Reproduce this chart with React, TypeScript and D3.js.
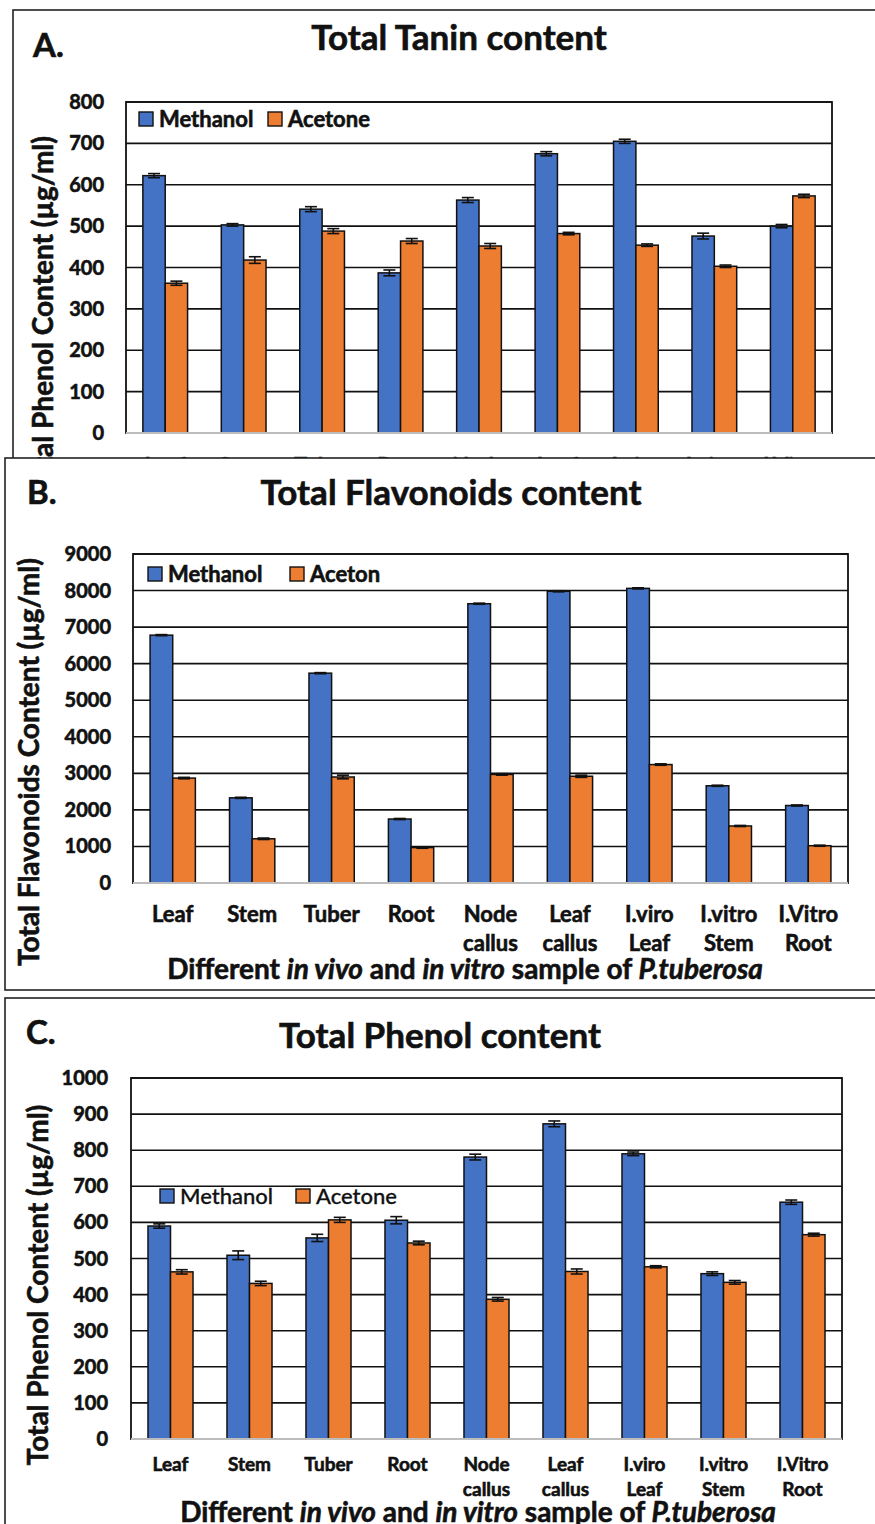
import * as d3 from 'd3';

const categories = ['Leaf', 'Stem', 'Tuber', 'Root', 'Node callus', 'Leaf callus', 'I.viro Leaf', 'I.vitro Stem', 'I.Vitro Root'];

// A. Total Tanin content
const taninMethanol = [622, 503, 541, 387, 563, 675, 705, 476, 500];
const taninMethanolErr = [5, 3, 6, 7, 6, 5, 5, 7, 4];
const taninAcetone = [362, 418, 488, 464, 452, 482, 454, 403, 573];
const taninAcetoneErr = [5, 8, 6, 6, 6, 3, 3, 3, 4];
const taninTicks = [0, 100, 200, 300, 400, 500, 600, 700, 800];

// B. Total Flavonoids content
const flavMethanol = [6780, 2330, 5740, 1750, 7640, 7980, 8060, 2660, 2120];
const flavMethanolErr = [15, 15, 15, 15, 15, 15, 15, 15, 15];
const flavAceton = [2870, 1210, 2900, 970, 2970, 2920, 3240, 1560, 1020];
const flavAcetonErr = [20, 20, 50, 20, 20, 30, 20, 15, 15];
const flavTicks = [0, 1000, 2000, 3000, 4000, 5000, 6000, 7000, 8000, 9000];

// C. Total Phenol content
const phenolMethanol = [590, 509, 557, 606, 781, 873, 790, 458, 656];
const phenolMethanolErr = [6, 12, 10, 10, 8, 8, 5, 5, 6];
const phenolAcetone = [463, 431, 607, 543, 387, 464, 477, 434, 566];
const phenolAcetoneErr = [6, 6, 7, 5, 5, 7, 3, 5, 4];
const phenolTicks = [0, 100, 200, 300, 400, 500, 600, 700, 800, 900, 1000];

const BLUE = '#4472C4';
const ORANGE = '#ED7D31';
const FONT = 'Lato, "Open Sans", sans-serif';
const INK = '#111';

type Series = { name: string; values: number[]; errors: number[]; color: string };

type PanelProps = {
  box: { x: number; y: number; w: number; h: number };
  letter: string;
  letterPos: [number, number];
  title: string;
  titlePos: [number, number];
  plot: { left: number; top: number; right: number; bottom: number };
  ticks: number[];
  tickX: number;
  series: Series[];
  legendX: number[];
  legendY: number;
  legendWeight: number;
  yLabel: string;
  yLabelPos: [number, number];
  yLabelAnchor: 'middle' | 'end';
  xLine1: number;
  xLine2: number | null;
  xTickSize: number;
  xTitlePos: [number, number] | null;
};

// heavier look, like the scanned Calibri bold
const heavy = { stroke: INK, strokeWidth: 0.6 };

function Panel(p: PanelProps) {
  const { plot } = p;
  const y = d3
    .scaleLinear()
    .domain([0, d3.max(p.ticks)!])
    .range([plot.bottom, plot.top]);
  const x = d3
    .scaleBand()
    .domain(categories)
    .range([plot.left, plot.right])
    .paddingInner(0.43)
    .paddingOuter(0.215);
  const xs = d3
    .scaleBand()
    .domain(p.series.map((s) => s.name))
    .range([0, x.bandwidth()]);

  return (
    <g>
      <rect x={p.box.x} y={p.box.y} width={p.box.w} height={p.box.h} fill="#fff" stroke="#222" strokeWidth={1.6} />
      <text x={p.letterPos[0]} y={p.letterPos[1]} fontSize={33} fontWeight={700} {...heavy}>
        {p.letter}
      </text>
      <text x={p.titlePos[0]} y={p.titlePos[1]} fontSize={35} fontWeight={700} textAnchor="middle" {...heavy}>
        {p.title}
      </text>

      {/* gridlines */}
      {p.ticks.map((t) => (
        <line key={t} x1={plot.left} x2={plot.right} y1={y(t)} y2={y(t)} stroke={INK} strokeWidth={1.6} />
      ))}
      {/* plot border */}
      <rect
        x={plot.left}
        y={plot.top}
        width={plot.right - plot.left}
        height={plot.bottom - plot.top}
        fill="none"
        stroke={INK}
        strokeWidth={1.8}
      />
      {/* tick labels */}
      {p.ticks.map((t) => (
        <text key={t} x={p.tickX} y={y(t)} dy="0.35em" fontSize={20} fontWeight={700} textAnchor="end" {...heavy}>
          {t}
        </text>
      ))}

      {/* bars */}
      {p.series.map((s) =>
        s.values.map((v, i) => {
          const bx = x(categories[i])! + xs(s.name)!;
          return (
            <rect
              key={s.name + i}
              x={bx}
              y={y(v)}
              width={xs.bandwidth()}
              height={plot.bottom - y(v)}
              fill={s.color}
              stroke={INK}
              strokeWidth={1.5}
            />
          );
        }),
      )}
      {/* error bars */}
      {p.series.map((s) =>
        s.values.map((v, i) => {
          const cx = x(categories[i])! + xs(s.name)! + xs.bandwidth() / 2;
          const hi = y(v + s.errors[i]);
          const lo = y(v - s.errors[i]);
          return (
            <g key={'e' + s.name + i} stroke={INK} strokeWidth={1.6}>
              <line x1={cx} x2={cx} y1={hi} y2={lo} />
              <line x1={cx - 6} x2={cx + 6} y1={hi} y2={hi} />
              <line x1={cx - 6} x2={cx + 6} y1={lo} y2={lo} />
            </g>
          );
        }),
      )}
      {/* x axis line */}
      <line x1={plot.left} x2={plot.right} y1={plot.bottom} y2={plot.bottom} stroke="#bdbdbd" strokeWidth={2} />

      {/* legend */}
      {p.series.map((s, i) => (
        <g key={'l' + s.name}>
          <rect x={p.legendX[i]} y={p.legendY} width={14} height={14} fill={s.color} stroke={INK} strokeWidth={1.4} />
          <text
            x={p.legendX[i] + 20}
            y={p.legendY + 15}
            fontSize={22}
            fontWeight={p.legendWeight}
            stroke={INK}
            strokeWidth={p.legendWeight > 500 ? 0.6 : 0.3}
          >
            {s.name}
          </text>
        </g>
      ))}

      {/* category labels */}
      {categories.map((c) => {
        const parts = c.split(' ');
        const cx = x(c)! + x.bandwidth() / 2;
        return (
          <text key={c} x={cx} fontSize={p.xTickSize} fontWeight={700} textAnchor="middle" {...heavy}>
            <tspan x={cx} y={p.xLine1}>
              {parts[0]}
            </tspan>
            {parts[1] && p.xLine2 !== null && (
              <tspan x={cx} y={p.xLine2}>
                {parts[1]}
              </tspan>
            )}
          </text>
        );
      })}

      {/* y axis title */}
      <text
        transform={`translate(${p.yLabelPos[0]},${p.yLabelPos[1]}) rotate(-90)`}
        fontSize={28}
        fontWeight={700}
        textAnchor={p.yLabelAnchor}
        dy="0.35em"
        {...heavy}
      >
        {p.yLabel}
      </text>

      {p.xTitlePos && (
        <text x={p.xTitlePos[0]} y={p.xTitlePos[1]} fontSize={28} fontWeight={700} textAnchor="middle" {...heavy}>
          Different <tspan fontStyle="italic">in vivo</tspan> and <tspan fontStyle="italic">in vitro</tspan> sample of{' '}
          <tspan fontStyle="italic">P.tuberosa</tspan>
        </text>
      )}
    </g>
  );
}

export default function App() {
  return (
    <svg
      width={875}
      height={1524}
      style={{ position: 'absolute', left: 0, top: 0, background: '#fff' }}
      fontFamily={FONT}
      fill={INK}
    >
      <Panel
        box={{ x: 13, y: 10, w: 880, h: 480 }}
        letter="A."
        letterPos={[33, 57]}
        title="Total Tanin content"
        titlePos={[459, 50]}
        plot={{ left: 126, top: 102, right: 832, bottom: 433 }}
        ticks={taninTicks}
        tickX={104}
        series={[
          { name: 'Methanol', values: taninMethanol, errors: taninMethanolErr, color: BLUE },
          { name: 'Acetone', values: taninAcetone, errors: taninAcetoneErr, color: ORANGE },
        ]}
        legendX={[139, 268]}
        legendY={112}
        legendWeight={700}
        yLabel="Total Phenol Content (µg/ml)"
        yLabelPos={[43, 136]}
        yLabelAnchor="end"
        xLine1={474}
        xLine2={null}
        xTickSize={22}
        xTitlePos={null}
      />
      <Panel
        box={{ x: 5, y: 458, w: 880, h: 532 }}
        letter="B."
        letterPos={[27, 504]}
        title="Total Flavonoids content"
        titlePos={[451, 505]}
        plot={{ left: 133, top: 554, right: 848, bottom: 883 }}
        ticks={flavTicks}
        tickX={111}
        series={[
          { name: 'Methanol', values: flavMethanol, errors: flavMethanolErr, color: BLUE },
          { name: 'Aceton', values: flavAceton, errors: flavAcetonErr, color: ORANGE },
        ]}
        legendX={[148, 290]}
        legendY={567}
        legendWeight={700}
        yLabel="Total Flavonoids Content (µg/ml)"
        yLabelPos={[29, 762]}
        yLabelAnchor="middle"
        xLine1={922}
        xLine2={951}
        xTickSize={22}
        xTitlePos={[465, 979]}
      />
      <Panel
        box={{ x: 5, y: 998, w: 880, h: 540 }}
        letter="C."
        letterPos={[26, 1044]}
        title="Total Phenol content"
        titlePos={[440, 1048]}
        plot={{ left: 131, top: 1078, right: 842, bottom: 1439 }}
        ticks={phenolTicks}
        tickX={108}
        series={[
          { name: 'Methanol', values: phenolMethanol, errors: phenolMethanolErr, color: BLUE },
          { name: 'Acetone', values: phenolAcetone, errors: phenolAcetoneErr, color: ORANGE },
        ]}
        legendX={[160, 296]}
        legendY={1189}
        legendWeight={500}
        yLabel="Total Phenol Content (µg/ml)"
        yLabelPos={[38, 1285]}
        yLabelAnchor="middle"
        xLine1={1471}
        xLine2={1496}
        xTickSize={19}
        xTitlePos={[478, 1522]}
      />
    </svg>
  );
}
